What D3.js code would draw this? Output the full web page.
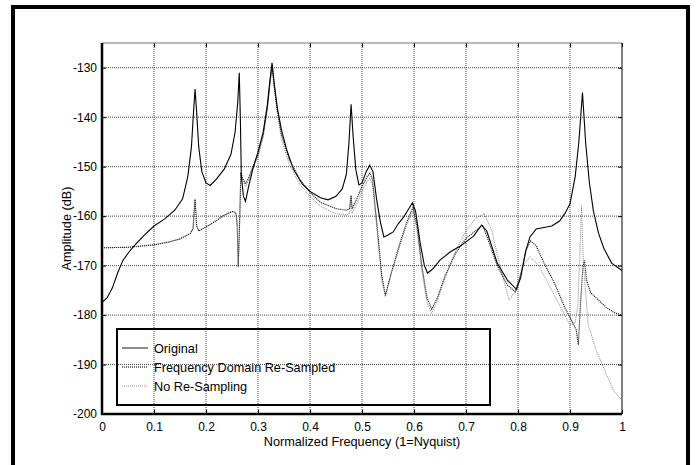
<!DOCTYPE html>
<html><head><meta charset="utf-8">
<script src="https://cdn.jsdelivr.net/npm/d3@7"></script>
<style>body{margin:0;background:#fff}svg{display:block}text{font-family:"Liberation Sans",Arial,sans-serif}</style>
</head><body>
<script>
const xTicks = [0,0.1,0.2,0.3,0.4,0.5,0.6,0.7,0.8,0.9,1];
const yTicks = [-130,-140,-150,-160,-170,-180,-190,-200];
const seriesNames = ["Original","Frequency Domain Re-Sampled","No Re-Sampling"];

const origF = [0,0.01,0.02,0.03,0.04,0.05,0.06,0.08,0.1,0.12,0.14,0.155,0.165,0.172,0.176,0.179,0.182,0.186,0.192,0.2,0.208,0.22,0.235,0.248,0.256,0.261,0.264,0.266,0.268,0.272,0.276,0.282,0.29,0.3,0.31,0.318,0.323,0.327,0.331,0.337,0.345,0.355,0.368,0.385,0.4,0.42,0.435,0.45,0.462,0.47,0.475,0.479,0.483,0.488,0.494,0.5,0.508,0.515,0.521,0.528,0.535,0.542,0.55,0.56,0.57,0.58,0.59,0.597,0.603,0.612,0.62,0.626,0.635,0.65,0.67,0.69,0.7,0.715,0.73,0.74,0.76,0.78,0.797,0.805,0.815,0.823,0.835,0.85,0.865,0.88,0.89,0.9,0.91,0.917,0.924,0.93,0.937,0.945,0.955,0.965,0.98,1];
const origDb = [-177.5,-176.5,-174.5,-171.5,-169,-167.5,-166.2,-164,-162,-160.6,-158.8,-156.5,-152,-146,-139,-134.3,-139,-146,-151,-153.3,-153.8,-152.5,-150.5,-147.5,-143,-137,-131,-140,-152,-156,-157,-154,-150.5,-147,-143,-137.5,-132.5,-129,-133,-138,-142.5,-146.5,-150.5,-153.5,-155,-156.3,-156.7,-156,-154.5,-151.5,-145,-137.4,-144,-150.5,-153.7,-153.3,-151,-149.7,-151,-156.5,-161,-164.2,-163.8,-163.2,-161.5,-160.2,-158.5,-157.3,-159,-165.5,-170,-171.5,-170.8,-168.9,-167.2,-166,-165.2,-164,-161.8,-163,-169.5,-173,-174.8,-172.5,-167,-164.2,-162.6,-162.3,-162,-161,-159.5,-157.5,-152,-145,-135,-145,-153,-159,-163.5,-166.5,-169.5,-171];

const fdrsF = [0,0.05,0.1,0.13,0.15,0.17,0.175,0.179,0.182,0.186,0.2,0.22,0.235,0.252,0.258,0.26,0.262,0.265,0.267,0.271,0.276,0.283,0.29,0.3,0.31,0.318,0.323,0.327,0.331,0.337,0.345,0.36,0.38,0.4,0.42,0.45,0.47,0.476,0.479,0.481,0.49,0.5,0.51,0.515,0.52,0.53,0.538,0.545,0.555,0.57,0.585,0.598,0.606,0.615,0.625,0.634,0.645,0.66,0.68,0.7,0.718,0.732,0.745,0.76,0.78,0.795,0.805,0.815,0.824,0.835,0.85,0.87,0.89,0.905,0.912,0.916,0.92,0.925,0.928,0.932,0.94,0.955,0.97,0.985,1];
const fdrsDb = [-166.4,-166.3,-165.8,-165.2,-164.6,-163.5,-162.5,-156.6,-162,-163,-162.2,-160.9,-159.8,-159,-159.5,-162,-170.3,-160,-151.2,-152.5,-153.5,-152,-150,-147.5,-143.5,-138,-133,-129.5,-133.5,-138.5,-143.5,-148.5,-152.5,-155.2,-157.2,-158.5,-158.8,-158.5,-155.8,-158.5,-156.5,-154,-152,-151.3,-152.5,-163,-172,-176,-172,-166.5,-161.5,-158.2,-162,-170,-176.5,-178.8,-176.5,-172,-167.5,-164.5,-163,-161.8,-165.5,-170,-174,-175.3,-172,-167,-165,-166,-169.5,-173.5,-178.5,-181.5,-183,-186,-178,-170,-169,-173,-175.5,-177,-178.5,-179.5,-180];

const nrsF = [0,0.05,0.1,0.13,0.15,0.17,0.175,0.179,0.182,0.186,0.2,0.22,0.235,0.252,0.258,0.26,0.262,0.265,0.267,0.271,0.276,0.283,0.29,0.3,0.31,0.318,0.323,0.327,0.331,0.337,0.345,0.36,0.38,0.4,0.42,0.45,0.47,0.476,0.479,0.481,0.49,0.5,0.51,0.515,0.52,0.53,0.538,0.545,0.555,0.57,0.585,0.598,0.606,0.615,0.625,0.634,0.645,0.66,0.68,0.7,0.718,0.735,0.75,0.765,0.783,0.795,0.81,0.823,0.84,0.86,0.88,0.9,0.91,0.915,0.919,0.922,0.926,0.935,0.95,0.97,0.985,1];
const nrsDb = [-166.4,-166.3,-165.8,-165.2,-164.6,-163.5,-162.5,-156.6,-162,-163,-162.2,-160.9,-159.8,-159,-159.5,-162,-170.3,-160,-151.2,-153,-154,-152.5,-150.5,-148,-144,-138.5,-133.5,-130,-134,-139,-144.5,-149.5,-153.5,-156,-158,-159.5,-159.8,-159.5,-156,-159.5,-157.5,-155,-153,-152.3,-153.5,-164,-173,-176.3,-172,-167,-162,-159,-163,-171,-177.5,-179.7,-177,-172.5,-167,-163,-160.5,-159.5,-163,-170,-177,-175,-170,-168.2,-170,-174,-178,-182,-181.5,-178,-168,-158,-170,-182,-187,-192,-195.5,-197.2];

const W = 697, H = 465;
const svg = d3.select("body").append("svg").attr("width", W).attr("height", H);
svg.append("rect").attr("width", W).attr("height", H).attr("fill", "#fff");
// outer frame
svg.append("rect").attr("x", 13).attr("y", 7).attr("width", 675).attr("height", 520)
  .attr("fill", "none").attr("stroke", "#000").attr("stroke-width", 4);

const L = 102, R = 622, T = 43, B = 414;
const x = d3.scaleLinear().domain([0, 1]).range([L, R]);
const y = d3.scaleLinear().domain([-200, -125]).range([B, T]);

// grid
const g = svg.append("g");
g.selectAll(".vg").data(xTicks.slice(1, -1)).join("line")
  .attr("x1", d => x(d)).attr("x2", d => x(d)).attr("y1", T).attr("y2", B)
  .attr("stroke", "#444").attr("stroke-dasharray", "1,1").attr("stroke-width", 1);
g.selectAll(".hg").data(yTicks.slice(0, -1)).join("line")
  .attr("x1", L).attr("x2", R).attr("y1", d => y(d)).attr("y2", d => y(d))
  .attr("stroke", "#444").attr("stroke-dasharray", "1,1").attr("stroke-width", 1);

// axes
const xAxis = d3.axisBottom(x).tickValues(xTicks).tickFormat(d => String(d)).tickSizeInner(-4).tickSizeOuter(0).tickPadding(8);
const yAxis = d3.axisLeft(y).tickValues(yTicks).tickFormat(d => String(d)).tickSizeInner(-4).tickSizeOuter(0).tickPadding(5);
const xa = svg.append("g").attr("transform", `translate(0,${B})`).call(xAxis);
const ya = svg.append("g").attr("transform", `translate(${L},0)`).call(yAxis);
[xa, ya].forEach(a => {
  a.select(".domain").remove();
  a.selectAll("text").attr("font-size", 12).attr("fill", "#000");
  a.selectAll("line").attr("stroke", "#000");
});
const xaTop = svg.append("g").attr("transform", `translate(0,${T})`).call(d3.axisTop(x).tickValues(xTicks).tickSizeInner(-4).tickSizeOuter(0).tickFormat(""));
const yaRight = svg.append("g").attr("transform", `translate(${R},0)`).call(d3.axisRight(y).tickValues(yTicks).tickSizeInner(-4).tickSizeOuter(0).tickFormat(""));
[xaTop, yaRight].forEach(a => { a.select(".domain").remove(); a.selectAll("line").attr("stroke", "#000"); });

svg.append("line").attr("x1", L).attr("x2", R).attr("y1", T).attr("y2", T).attr("stroke", "#777").attr("stroke-width", 1);
svg.append("line").attr("x1", R).attr("x2", R).attr("y1", T).attr("y2", B).attr("stroke", "#000").attr("stroke-width", 1);
svg.append("line").attr("x1", L).attr("x2", L).attr("y1", T).attr("y2", B + 1).attr("stroke", "#000").attr("stroke-width", 2.5);
svg.append("line").attr("x1", L - 1).attr("x2", R).attr("y1", B).attr("y2", B).attr("stroke", "#000").attr("stroke-width", 2.5);

// lines
const line = d3.line().x(d => x(d[0])).y(d => y(d[1]));
const zip = (a, b) => a.map((v, i) => [v, b[i]]);
const styles = [
  {stroke: "#000", dash: null, w: 1.1},
  {stroke: "#222", dash: "1.2,0.8", w: 1.1},
  {stroke: "#777", dash: "1,1", w: 0.9}
];
const data = [zip(nrsF, nrsDb), zip(fdrsF, fdrsDb), zip(origF, origDb)];
const st = [styles[2], styles[1], styles[0]];
data.forEach((d, i) => {
  svg.append("path").attr("d", line(d)).attr("fill", "none")
    .attr("stroke", st[i].stroke).attr("stroke-width", st[i].w)
    .attr("stroke-dasharray", st[i].dash);
});

// axis titles
svg.append("text").attr("x", (L + R) / 2).attr("y", 446).attr("text-anchor", "middle").attr("font-size", 12.7).text("Normalized Frequency (1=Nyquist)");
svg.append("text").attr("transform", `translate(71,${(T + B) / 2}) rotate(-90)`).attr("text-anchor", "middle").attr("font-size", 12.7).text("Amplitude (dB)");

// legend
const lg = svg.append("g");
lg.append("rect").attr("x", 117).attr("y", 329).attr("width", 373).attr("height", 76)
  .attr("fill", "none").attr("stroke", "#000").attr("stroke-width", 2);
const legStyles = [
  {stroke: "#666", dash: null, w: 1.5},
  {stroke: "#444", dash: "1,1", w: 1.5},
  {stroke: "#888", dash: "1,1", w: 1}
];
seriesNames.forEach((n, i) => {
  const yy = 348 + i * 19;
  lg.append("line").attr("x1", 122).attr("x2", 148).attr("y1", yy).attr("y2", yy)
    .attr("stroke", legStyles[i].stroke).attr("stroke-width", legStyles[i].w).attr("stroke-dasharray", legStyles[i].dash);
  lg.append("text").attr("x", 154).attr("y", yy + 4.5).attr("font-size", 12.7).text(n);
});
</script>
</body></html>
